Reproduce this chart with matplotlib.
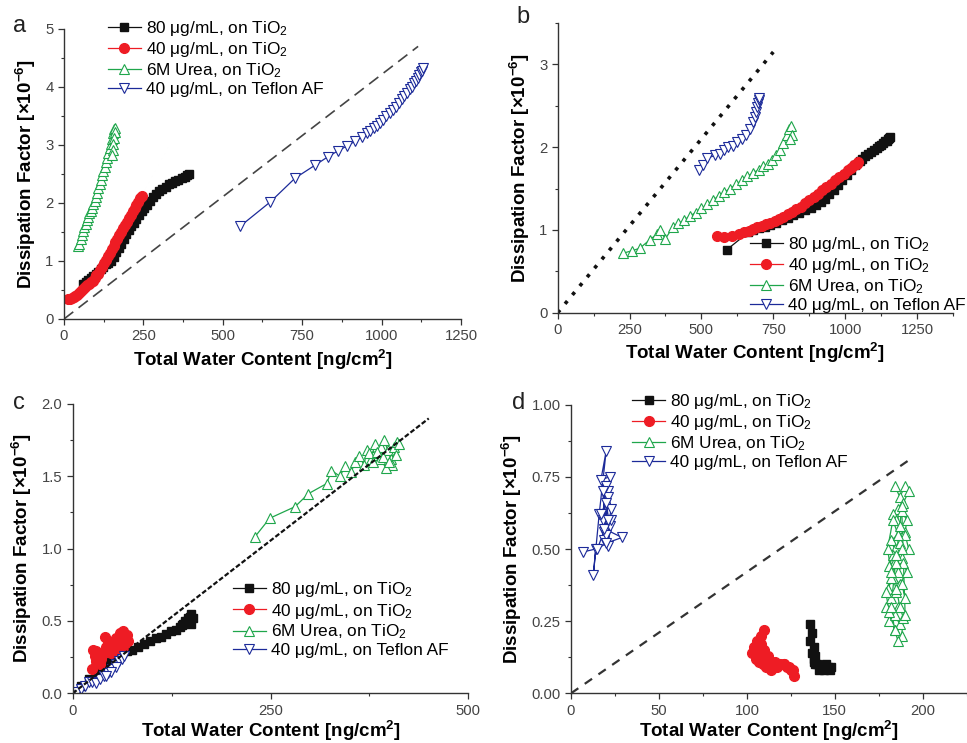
import matplotlib
matplotlib.use("Agg")
import matplotlib.pyplot as plt
from matplotlib.ticker import MultipleLocator, FormatStrFormatter

plt.rcParams['font.family'] = ['Liberation Sans', 'DejaVu Sans']
plt.rcParams['mathtext.default'] = 'regular'

labels = ["80 \u03bcg/mL, on TiO$_2$", "40 \u03bcg/mL, on TiO$_2$",
          "6M Urea, on TiO$_2$", "40 \u03bcg/mL, on Teflon AF"]

# ---------------- Panel a ----------------
a_x80 = [60, 68, 76, 84, 92, 100, 108, 116, 124, 132, 140, 148, 156, 164, 172, 180, 188, 196, 204, 212,
         220, 228, 236, 244, 252, 260, 270, 280, 290, 300, 310, 320, 330, 340, 350, 360, 370, 380, 388, 395]
a_y80 = [0.6, 0.64, 0.68, 0.71, 0.74, 0.77, 0.81, 0.86, 0.9, 0.94, 0.97, 1.0, 1.07, 1.15, 1.23, 1.3, 1.38, 1.46, 1.53, 1.6,
         1.66, 1.73, 1.8, 1.86, 1.92, 1.97, 2.04, 2.1, 2.16, 2.2, 2.24, 2.28, 2.32, 2.35, 2.38, 2.4, 2.43, 2.45, 2.48, 2.5]
a_x40 = [12, 18, 24, 30, 36, 42, 48, 54, 60, 66, 72, 78, 84, 90, 96, 102, 108, 114, 120, 126,
         132, 138, 144, 150, 156, 162, 168, 174, 180, 186, 192, 198, 204, 210, 216, 222, 228, 234, 240, 245]
a_y40 = [0.35, 0.34, 0.36, 0.38, 0.4, 0.42, 0.45, 0.48, 0.51, 0.55, 0.58, 0.6, 0.63, 0.66, 0.7, 0.75, 0.78, 0.84, 0.9, 0.96,
         1.02, 1.08, 1.14, 1.2, 1.26, 1.32, 1.38, 1.44, 1.5, 1.56, 1.62, 1.68, 1.74, 1.8, 1.86, 1.91, 1.96, 2.02, 2.08, 2.12]
a_xurea = [45, 48, 52, 56, 60, 64, 68, 72, 76, 80, 84, 88, 92, 96, 100, 104, 108, 112, 116, 120,
           124, 128, 132, 136, 140, 144, 148, 152, 155, 158, 160, 159, 157, 155, 153, 151]
a_yurea = [1.25, 1.3, 1.38, 1.45, 1.52, 1.58, 1.64, 1.7, 1.76, 1.82, 1.87, 1.92, 1.98, 2.04, 2.1, 2.18, 2.25, 2.32, 2.4, 2.48,
           2.55, 2.62, 2.7, 2.78, 2.86, 2.94, 3.02, 3.1, 3.2, 3.28, 3.3, 3.22, 3.12, 3.02, 2.92, 2.82]
a_xtef = [555, 650, 728, 790, 832, 863, 890, 915, 938, 955, 965, 975, 985, 995, 1005, 1015, 1025, 1035, 1045, 1055,
          1065, 1072, 1080, 1088, 1095, 1102, 1108, 1114, 1119, 1124, 1128, 1132]
a_ytef = [1.6, 2.02, 2.43, 2.65, 2.8, 2.9, 2.98, 3.06, 3.14, 3.2, 3.24, 3.29, 3.33, 3.38, 3.43, 3.5, 3.55, 3.6, 3.66, 3.72,
          3.8, 3.85, 3.9, 3.96, 4.0, 4.06, 4.1, 4.15, 4.2, 4.25, 4.28, 4.32]
a_refx = [0, 1115]
a_refy = [0, 4.7]

# ---------------- Panel b ----------------
b_x80 = [588, 663, 680, 700, 720, 740, 760, 780, 800, 820, 840, 860, 880, 900, 915, 930, 945, 960, 975, 990,
         1005, 1020, 1035, 1050, 1060, 1070, 1080, 1090, 1100, 1110, 1118, 1125, 1132, 1140, 1145, 1150, 1154, 1157]
b_y80 = [0.76, 0.97, 1.0, 1.02, 1.04, 1.06, 1.09, 1.12, 1.15, 1.18, 1.21, 1.24, 1.27, 1.3, 1.34, 1.38, 1.43, 1.48, 1.54, 1.6,
         1.66, 1.72, 1.78, 1.83, 1.86, 1.89, 1.92, 1.94, 1.97, 1.99, 2.01, 2.03, 2.05, 2.07, 2.08, 2.1, 2.11, 2.12]
b_x40 = [553, 580, 605, 630, 648, 665, 680, 695, 710, 725, 740, 755, 770, 785, 800, 815, 830, 845, 860, 875,
         890, 905, 920, 935, 950, 965, 980, 995, 1010, 1020, 1030, 1040, 1046]
b_y40 = [0.93, 0.92, 0.93, 0.95, 0.97, 0.99, 1.01, 1.03, 1.05, 1.07, 1.09, 1.11, 1.13, 1.16, 1.19, 1.22, 1.25, 1.28, 1.32, 1.36,
         1.4, 1.44, 1.48, 1.52, 1.56, 1.6, 1.64, 1.68, 1.72, 1.75, 1.78, 1.8, 1.82]
b_xurea = [228, 260, 286, 320, 345, 356, 374, 402, 420, 440, 460, 480, 500, 520, 540, 560, 580, 600, 620, 640,
           660, 680, 700, 715, 730, 745, 760, 772, 785, 797, 805, 810, 815, 808]
b_yurea = [0.72, 0.75, 0.78, 0.88, 0.95, 1.0, 0.89, 1.04, 1.08, 1.12, 1.17, 1.21, 1.26, 1.31, 1.36, 1.41, 1.46, 1.5, 1.55, 1.6,
           1.65, 1.69, 1.73, 1.77, 1.8, 1.84, 1.9, 1.97, 2.05, 2.15, 2.22, 2.25, 2.15, 2.1]
b_xtef = [490, 505, 520, 548, 565, 580, 594, 610, 625, 640, 655, 668, 678, 685, 690, 694, 697, 700, 702]
b_ytef = [1.72, 1.78, 1.87, 1.9, 1.92, 1.96, 2.0, 2.02, 2.06, 2.1, 2.15, 2.22, 2.3, 2.36, 2.42, 2.48, 2.53, 2.57, 2.6]
b_refx = [0, 750]
b_refy = [0, 3.15]

# ---------------- Panel c ----------------
c_x80 = [3, 10, 20, 30, 40, 48, 55, 62, 68, 75, 82, 90, 98, 105, 112, 118, 124, 130, 135, 140,
         145, 148, 150, 152, 150, 146, 142, 138]
c_y80 = [0.01, 0.05, 0.1, 0.15, 0.2, 0.24, 0.27, 0.28, 0.29, 0.3, 0.32, 0.34, 0.36, 0.38, 0.39, 0.41, 0.43, 0.44, 0.46, 0.48,
         0.5, 0.53, 0.55, 0.52, 0.48, 0.52, 0.5, 0.47]
c_x40 = [24, 26, 30, 33, 36, 39, 41, 44, 47, 50, 52, 55, 57, 60, 62, 64, 66, 68, 70, 65, 58, 53, 48, 45, 42, 35, 28, 30]
c_y40 = [0.17, 0.3, 0.22, 0.27, 0.24, 0.28, 0.39, 0.3, 0.33, 0.35, 0.31, 0.38, 0.36, 0.42, 0.4, 0.43, 0.38, 0.4, 0.36,
         0.33, 0.34, 0.3, 0.28, 0.36, 0.32, 0.2, 0.26, 0.29]
c_xurea = [230, 249, 281, 298, 321, 327, 338, 344, 352, 357, 362, 368, 372, 377, 382, 386, 390, 394, 398, 402,
           406, 410, 404, 396, 388, 380, 374, 384, 392, 400, 408, 412]
c_yurea = [1.08, 1.21, 1.29, 1.38, 1.45, 1.54, 1.5, 1.57, 1.53, 1.6, 1.64, 1.58, 1.68, 1.62, 1.72, 1.66, 1.7, 1.75, 1.68, 1.62,
           1.7, 1.74, 1.58, 1.56, 1.62, 1.6, 1.66, 1.67, 1.63, 1.6, 1.65, 1.72]
c_xtef = [5, 10, 15, 20, 25, 30, 35, 40, 45, 50, 55, 58, 62, 65, 55, 48, 42]
c_ytef = [0.01, 0.03, 0.05, 0.08, 0.08, 0.07, 0.1, 0.12, 0.14, 0.17, 0.2, 0.22, 0.24, 0.26, 0.18, 0.15, 0.12]
c_refx = [0, 450]
c_refy = [0, 1.9]

# ---------------- Panel d ----------------
d_x80 = [136, 137, 136, 138, 137, 139, 138, 140, 142, 144, 146, 148, 147, 145, 141, 139, 138]
d_y80 = [0.24, 0.21, 0.18, 0.16, 0.14, 0.13, 0.11, 0.1, 0.09, 0.08, 0.09, 0.09, 0.08, 0.1, 0.08, 0.1, 0.12]
d_x40 = [110, 108, 106, 104, 103, 105, 107, 109, 111, 113, 116, 119, 121, 123, 125, 127, 126, 124, 121, 117,
         114, 111, 109, 107, 106, 108, 110, 112]
d_y40 = [0.22, 0.2, 0.18, 0.16, 0.14, 0.12, 0.11, 0.1, 0.09, 0.1, 0.11, 0.1, 0.1, 0.09, 0.08, 0.06, 0.08, 0.09, 0.1, 0.09,
         0.08, 0.1, 0.12, 0.14, 0.15, 0.17, 0.15, 0.13]
d_xurea = [184, 187, 190, 192, 189, 186, 183, 185, 188, 191, 190, 186, 182, 184, 187, 190, 192, 188, 184, 181,
           183, 186, 189, 191, 187, 183, 180, 182, 185, 188, 190, 186, 182, 179, 181, 184, 187, 184, 181, 179,
           182, 185, 188, 186, 183, 180, 182, 185, 187, 189, 188, 186, 184, 182, 185, 187, 188, 190]
d_yurea = [0.72, 0.68, 0.72, 0.7, 0.66, 0.64, 0.62, 0.6, 0.63, 0.6, 0.56, 0.55, 0.53, 0.5, 0.52, 0.55, 0.5, 0.47, 0.46, 0.44,
           0.48, 0.42, 0.45, 0.42, 0.38, 0.4, 0.36, 0.33, 0.35, 0.38, 0.33, 0.3, 0.28, 0.3, 0.25, 0.27, 0.24, 0.22, 0.28, 0.35,
           0.4, 0.45, 0.5, 0.55, 0.6, 0.5, 0.42, 0.36, 0.3, 0.26, 0.2, 0.18, 0.22, 0.3, 0.48, 0.58, 0.65, 0.27]
d_xtef = [7, 14, 12.7, 16, 20, 17, 22, 19, 21, 18, 20, 23, 19, 21, 17, 22, 20, 18, 21, 23, 20, 19, 29, 20, 15, 21]
d_ytef = [0.49, 0.5, 0.41, 0.62, 0.84, 0.74, 0.75, 0.56, 0.7, 0.6, 0.72, 0.64, 0.53, 0.68, 0.62, 0.58, 0.66, 0.7, 0.51,
          0.6, 0.55, 0.57, 0.54, 0.52, 0.5, 0.6]
d_refx = [0, 195]
d_refy = [0, 0.82]

BLACK = '#111111'
RED = '#ee1c24'
GREEN = '#1fa64b'
BLUE = '#1c2a99'

fig = plt.figure(figsize=(9.67, 7.43), dpi=100)

positions = {
    'a': [0.0662, 0.5707, 0.4105, 0.3903],
    'b': [0.5767, 0.5791, 0.4088, 0.3899],
    'c': [0.0752, 0.0669, 0.4091, 0.3894],
    'd': [0.5905, 0.0669, 0.4092, 0.3884],
}

panels = {
    'a': dict(data=[(a_x80, a_y80), (a_x40, a_y40), (a_xurea, a_yurea), (a_xtef, a_ytef)],
              ref=(a_refx, a_refy), refstyle=dict(ls=(0, (7, 4)), lw=1.2, color='#444444'),
              xlim=(0, 1250), ylim=(0, 5), xmaj=250, xmin=125, ymaj=1, ymin=0.5, yfmt='%d',
              leg=(0.111, 1.035), lbl=(0.02, 0.965), xpad=3),
    'b': dict(data=[(b_x80, b_y80), (b_x40, b_y40), (b_xurea, b_yurea), (b_xtef, b_ytef)],
              ref=(b_refx, b_refy), refstyle=dict(ls=(0, (1, 2.2)), lw=2.6, color='#111111'),
              xlim=(0, 1375), ylim=(0, 3.5), xmaj=250, xmin=125, ymaj=1, ymin=0.5, yfmt='%d',
              leg=(0.486, 0.268), lbl=(0.541, 0.977), xpad=3),
    'c': dict(data=[(c_x80, c_y80), (c_x40, c_y40), (c_xurea, c_yurea), (c_xtef, c_ytef)],
              ref=(c_refx, c_refy), refstyle=dict(ls=(0, (2.2, 1.0)), lw=1.6, color='#111111'),
              xlim=(0, 500), ylim=(0, 2.0), xmaj=250, xmin=125, ymaj=0.5, ymin=0.25, yfmt='%.1f',
              leg=(0.405, 0.39), lbl=(0.02, 0.4576), xpad=0.5),
    'd': dict(data=[(d_x80, d_y80), (d_x40, d_y40), (d_xurea, d_yurea), (d_xtef, d_ytef)],
              ref=(d_refx, d_refy), refstyle=dict(ls=(0, (4, 3.5)), lw=1.6, color='#333333'),
              xlim=(0, 225), ylim=(0, 1.0), xmaj=50, xmin=25, ymaj=0.25, ymin=0.125, yfmt='%.2f',
              leg=(0.155, 1.045), lbl=(0.536, 0.4576), xpad=0.5),
}

styles = [
    dict(color=BLACK, marker='s', ms=5.5, mfc=BLACK, mec=BLACK),
    dict(color=RED, marker='o', ms=7, mfc=RED, mec=RED),
    dict(color=GREEN, marker='^', ms=7, mfc='white', mec=GREEN, mew=0.8),
    dict(color=BLUE, marker='v', ms=7, mfc='white', mec=BLUE, mew=0.8),
]

for key, p in panels.items():
    ax = fig.add_axes(positions[key])
    handles = []
    for (xs, ys), st, lab in zip(p['data'], styles, labels):
        h, = ax.plot(xs, ys, lw=0.9, label=lab, **st)
        handles.append(h)
    ax.plot(p['ref'][0], p['ref'][1], **p['refstyle'])
    ax.set_xlim(*p['xlim'])
    ax.set_ylim(*p['ylim'])
    ax.xaxis.set_major_locator(MultipleLocator(p['xmaj']))
    ax.xaxis.set_minor_locator(MultipleLocator(p['xmin']))
    ax.yaxis.set_major_locator(MultipleLocator(p['ymaj']))
    ax.yaxis.set_minor_locator(MultipleLocator(p['ymin']))
    ax.yaxis.set_major_formatter(FormatStrFormatter(p['yfmt']))
    for s in ['top', 'right']:
        ax.spines[s].set_visible(False)
    for s in ['left', 'bottom']:
        ax.spines[s].set_color('#333333')
        ax.spines[s].set_linewidth(1.0)
    ax.tick_params(which='major', direction='out', length=4, width=0.9, colors='#333333',
                   labelsize=10.7, labelcolor='#444444')
    ax.tick_params(which='minor', direction='out', length=2.5, width=0.8, colors='#333333')
    ax.set_xlabel("Total Water Content [ng/cm$^2$]", fontsize=13.5, fontweight='bold', labelpad=p['xpad'])
    ax.set_ylabel("Dissipation Factor [\u00d710$^{-6}$]", fontsize=13.5, fontweight='bold', labelpad=5)
    ax.legend(handles=handles, frameon=False, fontsize=12.4, handlelength=1.9, handletextpad=0.3,
              labelspacing=0.12, borderpad=0, borderaxespad=0,
              loc='upper left', bbox_to_anchor=p['leg'])
    fig.text(p['lbl'][0], p['lbl'][1], key, fontsize=17, ha='center', va='center', color='#222222')

fig.savefig('out.png', dpi=100)
